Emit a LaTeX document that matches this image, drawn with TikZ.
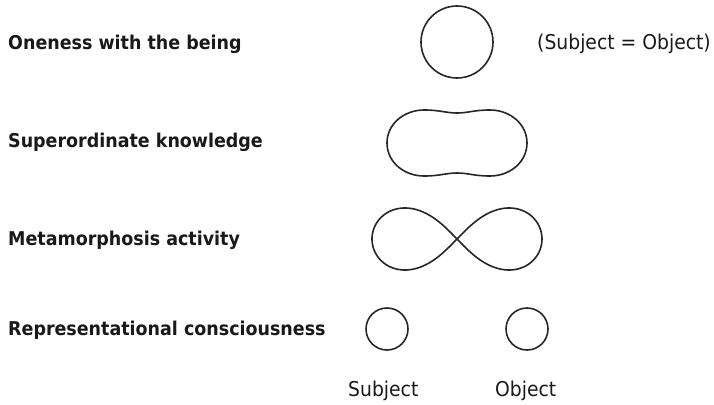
\documentclass[tikz,border=0pt]{standalone}
\usepackage{fontspec}
\setmainfont{DejaVu Sans}[FakeStretch=0.92]
\begin{document}
\begin{tikzpicture}[x=1pt,y=-1pt,
  shapeline/.style={line width=1.6pt, draw=black!85},
  lbl/.style={anchor=base west, inner sep=0pt, font=\fontsize{19}{22}\selectfont\bfseries, text=black!90},
  reg/.style={anchor=base west, inner sep=0pt, font=\fontsize{20.4}{24}\selectfont, text=black!90}]
\useasboundingbox (0,0) rectangle (714,404);
% labels
\node[lbl] (t1) at (8,49) {Oneness with the being};
\node[lbl] (t2) at (8,147) {Superordinate knowledge};
\node[lbl] (t3) at (8,245) {Metamorphosis activity};
\node[lbl] (t4) at (8,335) {Representational consciousness};
\node[reg] (eq) at (537,50) {(Subject = Object)};
\node[reg] (subj) at (348,396) {Subject};
\node[reg] (obj) at (495,396) {Object};
% oneness circle
\node[shapeline, circle, minimum size=72pt, inner sep=0pt] (one) at (457,42) {};
% peanut
\draw[shapeline] (387,143) .. controls (387,124) and (404,110) .. (424,110)
  .. controls (440,110) and (446,113) .. (457,113)
  .. controls (468,113) and (474,110) .. (490,110)
  .. controls (510,110) and (527,124) .. (527,143)
  .. controls (527,162) and (510,176) .. (490,176)
  .. controls (474,176) and (468,173) .. (457,173)
  .. controls (446,173) and (440,176) .. (424,176)
  .. controls (404,176) and (387,162) .. (387,143) -- cycle;
% infinity
\draw[shapeline] plot[domain=0:360, samples=240, smooth cycle]
  ({457+85*cos(\x)/(1+sin(\x)^2)}, {239+87.7*sin(\x)*cos(\x)/(1+sin(\x)^2)});
% small circles
\node[shapeline, circle, minimum size=42pt, inner sep=0pt] (sc) at (387,329) {};
\node[shapeline, circle, minimum size=42pt, inner sep=0pt] (oc) at (527,329) {};
\end{tikzpicture}
\end{document}
